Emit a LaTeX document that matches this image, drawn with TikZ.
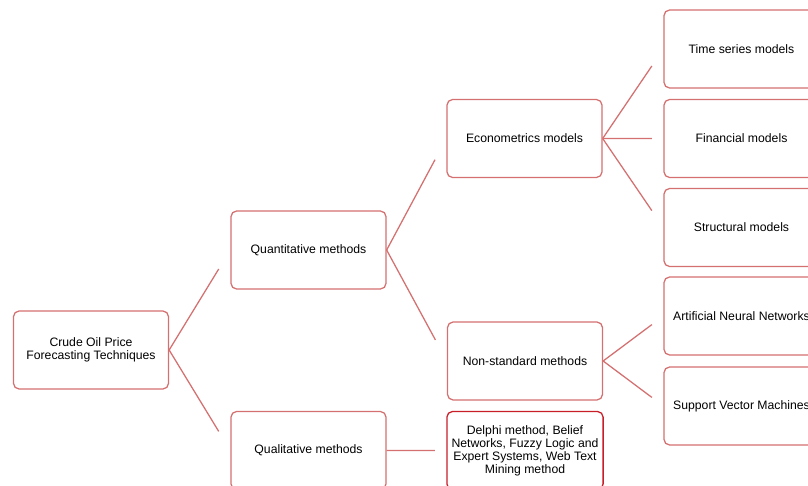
\documentclass[tikz,border=0pt]{standalone}
\usepackage{fontspec}
\setmainfont{Liberation Sans}
\usepackage{xcolor}
\usepackage{tikz}
\usetikzlibrary{calc}

\definecolor{boxred}{RGB}{212,112,112}
\definecolor{darkred}{RGB}{200,30,40}

\tikzset{
    methodbox/.style={draw=boxred, line width=0.9pt, rounded corners=4pt, fill=white,
        minimum width=3.875cm, minimum height=1.95cm, align=center,
        font=\fontsize{8.7}{9.2}\selectfont},
    branch/.style={draw=boxred, line width=0.9pt}
}

\begin{document}
\begin{tikzpicture}[x=0.025cm, y=-0.025cm]
                    % Frame
                    \useasboundingbox (0,0) rectangle (808,486);
                    \clip (0,0) rectangle (808,486);
                    % Root
                    \node[methodbox] (crude) at (91,350) {Crude Oil Price\\Forecasting Techniques};
                    % First level
                    \node[methodbox] (quant) at (308.5,250) {Quantitative methods};
                    \node[methodbox] (qual) at (308.5,450.5) {Qualitative methods};
                    % Second level
                    \node[methodbox] (econ) at (524.5,138.5) {Econometrics models};
                    \node[methodbox] (nonstd) at (525,361) {Non-standard methods};
                    \node[methodbox, draw=darkred] (delphi) at (525,450.5) {Delphi method, Belief\\Networks, Fuzzy Logic and\\Expert Systems, Web Text\\Mining method};
                    % Third level
                    \node[methodbox] (timeser) at (741.5,49) {Time series models};
                    \node[methodbox] (financial) at (741.5,138.5) {Financial models};
                    \node[methodbox] (structural) at (741.5,227.5) {Structural models};
                    \node[methodbox] (ann) at (741.5,316) {Artificial Neural Networks};
                    \node[methodbox] (svm) at (741.5,406) {Support Vector Machines};
                    % Branches
                    \draw[branch] (crude.east) -- ($(crude.east)!0.81!(quant.west)$);
                    \draw[branch] (crude.east) -- ($(crude.east)!0.81!(qual.west)$);
                    \draw[branch] (quant.east) -- ($(quant.east)!0.81!(econ.west)$);
                    \draw[branch] (quant.east) -- ($(quant.east)!0.81!(nonstd.west)$);
                    \draw[branch] (qual.east) -- ($(qual.east)!0.81!(delphi.west)$);
                    \draw[branch] (econ.east) -- ($(econ.east)!0.81!(timeser.west)$);
                    \draw[branch] (econ.east) -- ($(econ.east)!0.81!(financial.west)$);
                    \draw[branch] (econ.east) -- ($(econ.east)!0.81!(structural.west)$);
                    \draw[branch] (nonstd.east) -- ($(nonstd.east)!0.81!(ann.west)$);
                    \draw[branch] (nonstd.east) -- ($(nonstd.east)!0.81!(svm.west)$);
                \end{tikzpicture}
\end{document}
